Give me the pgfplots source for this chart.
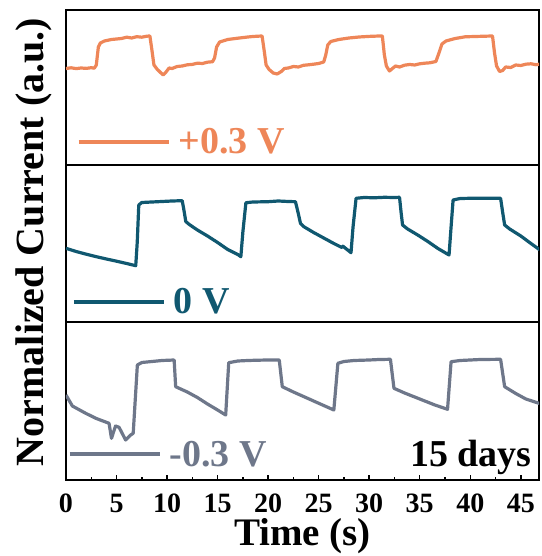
\documentclass[border=0pt]{standalone}
\usepackage{pgfplots}
\pgfplotsset{compat=1.18}
\usepackage{fontspec}
\setmainfont{Liberation Serif}
\definecolor{corange}{RGB}{238,134,88}
\definecolor{cteal}{RGB}{16,88,112}
\definecolor{cgray}{RGB}{110,119,138}
\newcommand\bigf{\fontsize{38}{40}\selectfont\bfseries}
\newcommand\xlabf{\fontsize{39}{42}\selectfont\bfseries}
\newcommand\ylabf{\fontsize{40}{42}\selectfont\bfseries}
\newcommand\tickf{\fontsize{28}{30}\selectfont\bfseries}
\pgfplotsset{
  panel/.style={
    scale only axis, width=473pt, xmin=0, xmax=46.8, ymin=0,
    axis line style={line width=1.8pt},
    ytick=\empty,
    clip=true,
    legend image code/.code={\draw[line width=3.6pt] (0pt,0pt) -- (90pt,0pt);},
    legend style={draw=none, fill=none, font=\bigf, inner sep=0pt, outer sep=0pt,
      /tikz/every odd column/.style={column sep=6pt}},
  },
  trace/.style={line width=3.2pt, line join=round},
}
\begin{document}
\begin{tikzpicture}
\useasboundingbox (-66pt,-76pt) rectangle (475pt,480pt);
% top panel
\begin{axis}[panel, at={(0pt,315pt)}, anchor=south west, height=155pt, ymax=155,
  xtick=\empty,
  legend style={at={(rel axis cs:0.023,0.148)}, anchor=west, text=corange}]
\addplot[corange, trace] coordinates {
(0,96.5) (0.5,97.2) (1,96.4) (1.5,97) (2,96.6) (2.5,97.3) (2.8,96.8)
(3.0,100) (3.2,118) (3.4,122) (3.8,124) (4.5,125.5) (5.5,126.5) (6,127.8) (6.5,127) (7,128.3) (7.5,127.8) (8,128.8) (8.3,129)
(8.5,115) (8.7,100) (9,96) (9.3,93) (9.6,90) (9.9,93) (10.2,97) (10.5,96.5) (11,98.5) (11.5,99) (12,100.2) (12.5,100.6) (13,101.8) (13.5,101.5) (14,102.8) (14.5,103.3)
(14.7,107) (14.9,118) (15.2,123) (16,125.5) (17,126.8) (18,128) (18.5,128.5) (19,128.8) (19.4,129)
(19.6,115) (19.8,100) (20.1,95.5) (20.5,92) (20.9,91) (21.3,93.5) (21.6,96.5) (22,97) (22.5,98.5) (23,98) (23.5,99.7) (24,100.2) (24.5,100.8) (25,101.5) (25.5,103)
(25.7,110) (25.9,120) (26.2,123.5) (27,125.5) (28,127) (29,128) (30,128.6) (31,129) (31.3,129)
(31.5,110) (31.7,99) (32,94) (32.3,96.5) (32.6,99) (33,98) (33.5,99.8) (34,100.5) (34.5,100) (35,101.2) (35.5,101.8) (36,102.2) (36.6,103.5)
(36.9,112) (37.2,121) (37.6,124) (38.5,126.5) (39.5,128.2) (40.5,128.5) (41.5,128.8) (42.2,129)
(42.4,112) (42.6,99) (42.9,93.5) (43.2,94.5) (43.5,98) (44,97.5) (44.5,100) (45,99.5) (45.5,100.8) (46,101.2) (46.5,100.3) (47,101)
};
\addlegendentry{+0.3 V}
\end{axis}
% middle panel
\begin{axis}[panel, at={(0pt,158pt)}, anchor=south west, height=157pt, ymax=157,
  xtick=\empty,
  legend style={at={(rel axis cs:0.013,0.127)}, anchor=west, text=cteal}]
\addplot[cteal, trace] coordinates {
(0,73.7) (1,70.5) (2,67.8) (3,65.3) (4,63) (5,60.8) (6,58.5) (6.9,56.3)
(7.05,80) (7.2,117) (7.5,119.5) (8.5,120) (9.5,120.5) (10.5,121) (11.5,121.3)
(11.7,110) (11.85,100.5) (12.2,97.5) (13,92) (14,86) (15,79.5) (16,72.5) (17,67.5) (17.3,65.3)
(17.5,90) (17.8,119.3) (18.5,120) (20,120.3) (21,121) (22,120.5) (22.7,120.3)
(22.95,110) (23.2,98.7) (23.5,95.5) (24.5,89.5) (25.5,84) (26.5,78.5) (27.3,74.5) (27.4,75.8) (28.2,69.3)
(28.4,95) (28.7,123.7) (29.5,124.5) (30.5,124.2) (31.5,124.7) (32.5,124.5) (33,124.7)
(33.15,110) (33.3,97) (33.8,93) (34.8,87) (35.8,80.5) (36.8,73.5) (37.9,67)
(38.1,95) (38.3,122) (39,123.5) (40,123.7) (41,123.8) (42,123.7) (43,123.7)
(43.2,110) (43.4,97) (43.9,93) (45,86) (46,78.5) (46.8,72.7) (47,72)
};
\addlegendentry{0 V}
\end{axis}
% bottom panel
\begin{axis}[panel, at={(0pt,0pt)}, anchor=south west, height=158pt, ymax=158,
  xtick={0,5,...,45}, minor x tick num=1, xtick pos=bottom, tick align=inside,
  major tick length=5pt, minor tick length=3pt,
  every tick/.style={black, line width=1.5pt},
  xticklabel style={font=\tickf, anchor=base, yshift=-32pt, inner sep=0.5pt},
  /pgf/number format/assume math mode=true,
  xlabel={Time (s)}, xlabel style={font=\xlabf, inner sep=0.5pt, at={(axis description cs:0.5,0)}, anchor=base, yshift=-65pt},
  legend style={at={(rel axis cs:0.004,0.163)}, anchor=west, text=cgray}]
\addplot[cgray, trace] coordinates {
(0,85) (0.63,74) (1.95,66.7) (3,61.5) (4.26,56.7)
(4.5,41.7) (4.9,54) (5.25,52.7) (5.9,40) (6.4,45) (6.65,46.7)
(7.06,115) (7.5,117.5) (8.5,118.5) (9.5,119.5) (10.7,120)
(10.85,93.3) (12,88) (13,82.5) (14,76) (15,70) (15.8,65)
(16.1,117.3) (17,119) (18,119.5) (19,119.8) (20,120) (21.1,120)
(21.4,93.3) (22.5,88) (23.5,83.5) (24.5,79) (25.5,74.5) (26.5,70)
(26.9,116.7) (27.5,118.5) (28.5,119.5) (30,120) (31,120.5) (32.1,120.7)
(32.45,91.7) (33.5,87) (34.5,83) (35.5,79) (36.5,75) (37.75,70.7)
(38.1,118.3) (39,119.5) (40,120) (41,120.5) (43,120.7)
(43.4,93.3) (44.5,86.5) (45.5,81) (46.8,76.7) (47,76)
};
\addlegendentry{-0.3 V}
\node[anchor=base east, inner sep=0pt, font=\bigf] at (rel axis cs:0.985,0.084) {15 days};
\end{axis}
\node[rotate=90, font=\ylabf, inner sep=0pt] at (-32pt,238pt) {Normalized Current (a.u.)};
\end{tikzpicture}
\end{document}
